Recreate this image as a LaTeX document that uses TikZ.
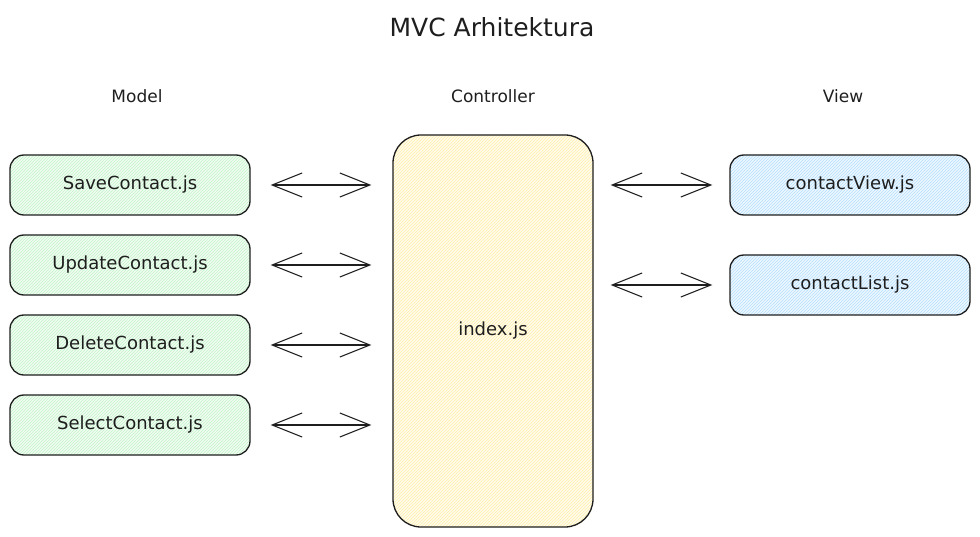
\documentclass[tikz,border=0pt]{standalone}
\usepackage{fontspec}
\setmainfont{DejaVu Sans}
\usetikzlibrary{arrows.meta,patterns,positioning}
\definecolor{modelfill}{HTML}{B2F2BB}
\definecolor{viewfill}{HTML}{A5D8FF}
\definecolor{ctrlfill}{HTML}{FFEC99}
\definecolor{ink}{HTML}{1E1E1E}
\tikzset{
  filebox/.style={draw=ink, line width=1.3pt, rounded corners=14pt,
    minimum width=240pt, minimum height=60pt, inner sep=0pt,
    font=\fontsize{18}{21}\selectfont, text=ink},
  modelbox/.style={filebox, preaction={fill=modelfill!20},
    pattern=north east lines, pattern color=modelfill!80},
  viewbox/.style={filebox, preaction={fill=viewfill!20},
    pattern=north east lines, pattern color=viewfill!80},
  header/.style={font=\fontsize{17}{20}\selectfont, text=ink},
  link/.style={draw=ink, line width=1.1pt,
    {Straight Barb[length=30pt,width=24pt,line width=1.1pt]}-{Straight Barb[length=30pt,width=24pt,line width=1.1pt]}},
}
\begin{document}
\begin{tikzpicture}[x=1pt,y=-1pt]
  \useasboundingbox (0,0) rectangle (980,537);
  \node (title) [font=\fontsize{25}{29}\selectfont, text=ink] at (492,27) {MVC Arhitektura};
  \node (model) [header] at (137,96) {Model};
  \node (controller) [header] at (493,96) {Controller};
  \node (view) [header] at (843,96) {View};
  % controller
  \node (index) [draw=ink, line width=1.3pt, rounded corners=28pt,
    minimum width=200pt, minimum height=392pt, inner sep=0pt,
    preaction={fill=ctrlfill!20}, pattern=north east lines, pattern color=ctrlfill!80,
    font=\fontsize{18}{21}\selectfont, text=ink] at (493,331) {index.js};
  % model
  \node (save) [modelbox] at (130,185) {SaveContact.js};
  \node (update) [modelbox] at (130,265) {UpdateContact.js};
  \node (delete) [modelbox] at (130,345) {DeleteContact.js};
  \node (select) [modelbox] at (130,425) {SelectContact.js};
  % view
  \node (cview) [viewbox] at (850,185) {contactView.js};
  \node (clist) [viewbox] at (850,285) {contactList.js};
  % connectors
  \foreach \m in {save,update,delete,select}
    \draw[link, shorten <=20pt, shorten >=21pt] (\m.east) -- (\m.east -| index.west);
  \foreach \v in {cview,clist}
    \draw[link, shorten <=17pt, shorten >=17pt] (\v.west -| index.east) -- (\v.west);
\end{tikzpicture}
\end{document}
